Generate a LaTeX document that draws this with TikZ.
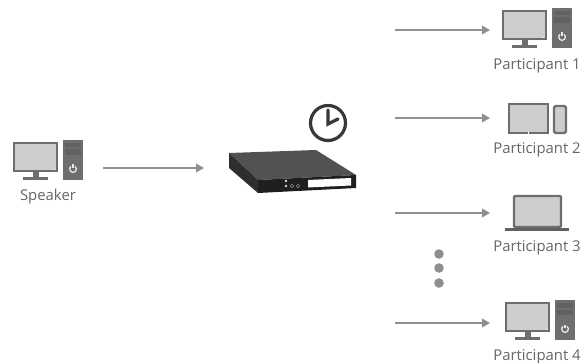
\documentclass[tikz,border=0pt]{standalone}
\usepackage{fontspec}
\setmainfont{Open Sans}
\usetikzlibrary{arrows.meta}
\definecolor{dev}{HTML}{6E6E6E}
\definecolor{scr}{HTML}{CDCDCD}
\definecolor{arr}{HTML}{8F8F8F}
\definecolor{txt}{HTML}{666666}
\tikzset{
  flow/.style={draw=arr,line width=2.8pt,-{Triangle[length=8pt,width=8.5pt]}},
  lbl/.style={text=txt,font=\fontsize{14.9}{16}\selectfont,inner sep=0pt},
  screen/.style={draw=dev,fill=scr,line width=2.2pt},
  desktop/.pic={
    \draw[screen] (1,3) rectangle (44,31);
    \fill[white] (41,28.6) rectangle (42.4,30);
    \fill[dev] (20,32) rectangle (26,37);
    \fill[dev] (10,37) rectangle (35,40);
    \fill[dev] (50,0) rectangle (70,40);
    \fill[black!62] (52,3) rectangle (68,7.5);
    \fill[black!62] (52,9.5) rectangle (68,15);
    \draw[white!85!dev,line width=1.3pt] (60,29) ++(-50:3.4) arc[start angle=-50,end angle=230,radius=3.4];
    \draw[white!85!dev,line width=1.3pt] (60,24.5) -- (60,28);
  }
}
\begin{document}
\begin{tikzpicture}[x=1pt,y=-1pt]
\useasboundingbox (0,0) rectangle (583,363);
% speaker
\pic at (13,140) {desktop};
\node[lbl] (speaker) at (48,197) {Speaker};
% participants' devices
\pic at (502,8) {desktop};
\node[lbl] (p1) at (537,66) {Participant 1};
% tablet and phone
\draw[screen] (509,104) rectangle (548,133);
\fill[white] (527.6,132.2) rectangle (529.4,134);
\draw[screen,rounded corners=1.5pt] (554,106) rectangle (566,133);
\node[lbl] (p2) at (537,150) {Participant 2};
% laptop
\draw[screen,rounded corners=1pt] (514,196) rectangle (561,227);
\fill[black!62] (505,228) rectangle (569,231);
\node[lbl] (p3) at (537,248) {Participant 3};
\pic at (505,300) {desktop};
\node[lbl] (p4) at (537,357) {Participant 4};
% server
\fill[black!68] (229,153) -- (316,150) -- (356,175) -- (258,180) -- cycle;
\fill[black!82] (229,153) -- (258,180) -- (258,193) -- (229,168) -- cycle;
\fill[black!88] (258,180) -- (356,175) -- (356,188) -- (258,193) -- cycle;
\fill[white] (308,180) -- (351,178) -- (351,185.5) -- (308,187.5) -- cycle;
\fill[white!85!black] (286,181) circle[radius=1.3] (286,186) circle[radius=1.3];
\draw[black!45,line width=.5pt] (292,186) circle[radius=1.8] (298,186) circle[radius=1.8];
% clock
\draw[black!78,line width=3.2pt] (328,123) circle[radius=17.5];
\draw[black!78,line width=3.2pt,line cap=round,line join=miter] (328,110) -- (328,124) -- (338,119);
% dots
\foreach \y in {254,268,283} \fill[arr] (439,\y) circle[radius=4.8];
% connectors
\coordinate (a0) at (103,168); \coordinate (b0) at (204,168);
\coordinate (a1) at (395,30);  \coordinate (b1) at (490,30);
\coordinate (a2) at (395,118); \coordinate (b2) at (490,118);
\coordinate (a3) at (395,213); \coordinate (b3) at (490,213);
\coordinate (a4) at (395,323); \coordinate (b4) at (490,323);
\foreach \i in {0,...,4} \draw[flow] (a\i) -- (b\i);
\end{tikzpicture}
\end{document}
